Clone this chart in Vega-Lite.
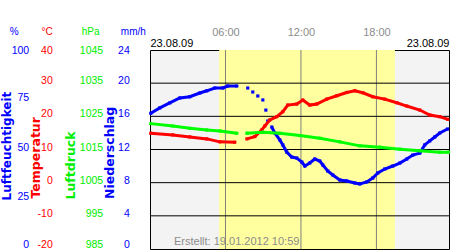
{
  "$schema": "https://vega.github.io/schema/vega-lite/v6.json",
  "width": 299,
  "height": 199,
  "autosize": "none",
  "padding": {"left": 150, "top": 50, "right": 1, "bottom": 1},
  "background": "white",
  "config": {
    "view": {"fill": "#f3f3f3", "stroke": "black", "strokeWidth": 1},
    "font": "Liberation Sans",
    "axis": {"domain": false, "ticks": false, "tickSize": 0, "grid": false, "labelOverlap": false, "labelBound": false, "labelFlush": false}
  },
  "title": {
    "text": "Erstellt: 19.01.2012 10:59",
    "orient": "bottom",
    "anchor": "start",
    "frame": "group",
    "offset": -5,
    "dx": 24,
    "baseline": "alphabetic",
    "font": "Liberation Sans",
    "fontSize": 11,
    "fontWeight": "normal",
    "color": "#8c8c8c"
  },
  "datasets": {
    "hum": [
      {"h": 0.06, "v": 68.2, "seg": 1}, {"h": 0.78, "v": 70.9, "seg": 1}, {"h": 1.57, "v": 73.4, "seg": 1},
      {"h": 2.37, "v": 75.9, "seg": 1}, {"h": 3.16, "v": 76.5, "seg": 1}, {"h": 3.96, "v": 78.4, "seg": 1},
      {"h": 4.52, "v": 79.5, "seg": 1}, {"h": 5.15, "v": 80.9, "seg": 1}, {"h": 5.79, "v": 80.9, "seg": 1},
      {"h": 6.18, "v": 81.9, "seg": 1}, {"h": 6.9, "v": 81.9, "seg": 1},
      {"h": 7.77, "v": 80.9, "seg": 2}, {"h": 8.17, "v": 78.9, "seg": 3}, {"h": 8.57, "v": 76.9, "seg": 4},
      {"h": 8.97, "v": 74.9, "seg": 5}, {"h": 9.21, "v": 69.8, "seg": 6}, {"h": 9.36, "v": 64.3, "seg": 7},
      {"h": 9.68, "v": 61.3, "seg": 8}, {"h": 9.92, "v": 58.3, "seg": 8}, {"h": 10.32, "v": 54.8, "seg": 8},
      {"h": 10.56, "v": 52.3, "seg": 8}, {"h": 10.87, "v": 48.7, "seg": 8}, {"h": 11.27, "v": 46.2, "seg": 8},
      {"h": 11.67, "v": 45.7, "seg": 8}, {"h": 12.07, "v": 43.7, "seg": 8}, {"h": 12.31, "v": 41.7, "seg": 8},
      {"h": 12.7, "v": 43.2, "seg": 8}, {"h": 13.1, "v": 45.2, "seg": 8}, {"h": 13.5, "v": 44.2, "seg": 8},
      {"h": 13.74, "v": 42.2, "seg": 8}, {"h": 14.13, "v": 39.2, "seg": 8}, {"h": 14.53, "v": 37.2, "seg": 8},
      {"h": 15.09, "v": 34.7, "seg": 8}, {"h": 15.64, "v": 34.2, "seg": 8}, {"h": 16.28, "v": 33.2, "seg": 8},
      {"h": 16.68, "v": 32.7, "seg": 8}, {"h": 17.23, "v": 33.7, "seg": 8}, {"h": 17.71, "v": 35.7, "seg": 8},
      {"h": 18.11, "v": 38.2, "seg": 8}, {"h": 18.66, "v": 40.2, "seg": 8}, {"h": 19.3, "v": 41.7, "seg": 8},
      {"h": 19.86, "v": 43.2, "seg": 8}, {"h": 20.41, "v": 45.2, "seg": 8}, {"h": 20.89, "v": 47.2, "seg": 8},
      {"h": 21.45, "v": 48.2, "seg": 8}, {"h": 21.84, "v": 52.3, "seg": 8}, {"h": 22.24, "v": 54.3, "seg": 8},
      {"h": 22.64, "v": 56.3, "seg": 8}, {"h": 23.04, "v": 58.3, "seg": 8}, {"h": 23.65, "v": 60.3, "seg": 8}
    ],
    "temp": [
      {"h": 0.06, "v": 14.9, "seg": 1}, {"h": 1.81, "v": 14.4, "seg": 1}, {"h": 3.16, "v": 13.8, "seg": 1},
      {"h": 4.52, "v": 13.2, "seg": 1}, {"h": 5.55, "v": 12.3, "seg": 1}, {"h": 6.74, "v": 12.2, "seg": 1},
      {"h": 7.7, "v": 13.2, "seg": 2}, {"h": 8.33, "v": 13.9, "seg": 2}, {"h": 8.89, "v": 15.9, "seg": 2},
      {"h": 9.13, "v": 17.1, "seg": 2}, {"h": 9.52, "v": 18.9, "seg": 2}, {"h": 10.08, "v": 19.9, "seg": 2},
      {"h": 10.56, "v": 21.4, "seg": 2}, {"h": 10.95, "v": 23.4, "seg": 2}, {"h": 11.67, "v": 23.7, "seg": 2},
      {"h": 12.15, "v": 24.9, "seg": 2}, {"h": 12.7, "v": 23.4, "seg": 2}, {"h": 13.26, "v": 23.7, "seg": 2},
      {"h": 14.05, "v": 25.2, "seg": 2}, {"h": 14.85, "v": 26.2, "seg": 2}, {"h": 15.64, "v": 27.2, "seg": 2},
      {"h": 16.28, "v": 27.7, "seg": 2}, {"h": 16.92, "v": 27.1, "seg": 2}, {"h": 17.71, "v": 25.9, "seg": 2},
      {"h": 18.66, "v": 25.2, "seg": 2}, {"h": 19.62, "v": 24.1, "seg": 2}, {"h": 20.41, "v": 23.1, "seg": 2},
      {"h": 21.45, "v": 21.9, "seg": 2}, {"h": 22.24, "v": 20.4, "seg": 2}, {"h": 23.04, "v": 19.9, "seg": 2},
      {"h": 23.67, "v": 19.1, "seg": 2}
    ],
    "pres": [
      {"h": 0.06, "v": 1022.8, "seg": 1}, {"h": 1.81, "v": 1022.1, "seg": 1}, {"h": 3.16, "v": 1021.4, "seg": 1},
      {"h": 4.52, "v": 1020.9, "seg": 1}, {"h": 5.55, "v": 1020.6, "seg": 1}, {"h": 6.9, "v": 1019.9, "seg": 1},
      {"h": 7.7, "v": 1019.9, "seg": 2}, {"h": 8.97, "v": 1020.2, "seg": 2}, {"h": 10.32, "v": 1019.9, "seg": 2},
      {"h": 11.91, "v": 1019.2, "seg": 2}, {"h": 13.5, "v": 1018.4, "seg": 2}, {"h": 15.09, "v": 1017.3, "seg": 2},
      {"h": 16.68, "v": 1016.1, "seg": 2}, {"h": 18.27, "v": 1015.7, "seg": 2}, {"h": 19.86, "v": 1015.1, "seg": 2},
      {"h": 21.45, "v": 1014.6, "seg": 2}, {"h": 23.04, "v": 1014.2, "seg": 2}, {"h": 23.75, "v": 1014.2, "seg": 2}
    ],
    "rain": [
      {"h": 1, "v": 0}, {"h": 3, "v": 0}, {"h": 5, "v": 0}, {"h": 7, "v": 0}, {"h": 9, "v": 0}, {"h": 11, "v": 0},
      {"h": 13, "v": 0}, {"h": 15, "v": 0}, {"h": 17, "v": 0}, {"h": 19, "v": 0}, {"h": 21, "v": 0}, {"h": 23, "v": 0}
    ],
    "day": [{"start": 5.5, "end": 19.47}],
    "hours": [{"h": 6}, {"h": 12}, {"h": 18}],
    "levels": [{"r": 4}, {"r": 8}, {"r": 12}, {"r": 16}, {"r": 20}]
  },
  "layer": [
    {
      "data": {"name": "day"},
      "mark": {"type": "rect", "color": "#ffffa0"},
      "encoding": {
        "x": {
          "field": "start", "type": "quantitative",
          "scale": {"domain": [0, 23.77], "nice": false, "zero": false},
          "axis": {
            "orient": "top", "values": [6, 12, 18],
            "labelExpr": "(datum.value < 10 ? '0' : '') + datum.value + ':00'",
            "labelPadding": 13, "labelFont": "Liberation Sans", "labelFontSize": 11,
            "labelColor": "#8c8c8c", "title": null
          }
        },
        "x2": {"field": "end"}
      }
    },
    {
      "data": {"name": "hours"},
      "mark": {"type": "rule", "color": "#808080", "strokeWidth": 1},
      "encoding": {
        "x": {"field": "h", "type": "quantitative", "scale": {"domain": [0, 23.77], "nice": false, "zero": false}, "axis": null}
      }
    },
    {
      "data": {"name": "levels"},
      "mark": {"type": "rule", "color": "black", "strokeWidth": 1},
      "encoding": {
        "y": {
          "field": "r", "type": "quantitative",
          "scale": {"domain": [0, 24], "nice": false, "zero": false},
          "axis": {
            "orient": "left", "offset": 20.7, "values": [0, 4, 8, 12, 16, 20, 24],
            "labelPadding": 0, "labelAlign": "right", "labelBaseline": "middle",
            "labelOffset": {"condition": [{"test": "datum.value == 0", "value": -4.5}, {"test": "datum.value == 24", "value": 0}], "value": -2.5},
            "labelFontSize": 10.5, "labelColor": "#0000ff", "labelFont": "Liberation Sans",
            "title": "mm/h", "titleAngle": 0, "titleAlign": "center", "titleBaseline": "middle",
            "titleX": 3.5, "titleY": -19, "titleColor": "#0000ff", "titleFont": "Liberation Sans",
            "titleFontWeight": "normal", "titleFontSize": 10
          }
        }
      }
    },
    {
      "data": {"name": "rain"},
      "mark": {"type": "bar", "color": "#0000ff"},
      "encoding": {
        "x": {"field": "h", "type": "quantitative", "scale": {"domain": [0, 23.77], "nice": false, "zero": false}, "axis": null},
        "y": {
          "field": "v", "type": "quantitative",
          "scale": {"domain": [0, 24], "nice": false, "zero": false},
          "axis": {
            "orient": "left", "offset": 20.7, "labels": false,
            "title": "Niederschlag", "titleAngle": 270, "titleAlign": "left", "titleBaseline": "middle",
            "titleX": -19.8, "titleY": 148.5, "titleColor": "#0000ff", "titleFont": "DejaVu Sans",
            "titleFontWeight": "bold", "titleFontSize": 12.5
          }
        }
      }
    },
    {
      "data": {"name": "hum"},
      "mark": {"type": "line", "color": "#0000ff", "strokeWidth": 3},
      "encoding": {
        "x": {
          "field": "h", "type": "quantitative",
          "scale": {"domain": [0, 23.77], "nice": false, "zero": false},
          "axis": {
            "orient": "top", "values": [0, 23.77], "labelExpr": "'23.08.09'",
            "labelFlush": true, "labelPadding": 2, "labelFont": "Liberation Sans", "labelFontSize": 11,
            "labelColor": "black", "title": null
          }
        },
        "y": {
          "field": "v", "type": "quantitative",
          "scale": {"domain": [0, 100], "nice": false, "zero": false},
          "axis": {
            "orient": "left", "offset": 121.3, "values": [0, 25, 50, 75, 100],
            "labelPadding": 0, "labelAlign": "right", "labelBaseline": "middle",
            "labelOffset": {"condition": [{"test": "datum.value == 0", "value": -4.5}, {"test": "datum.value == 100", "value": 0}], "value": -2.5},
            "labelFontSize": 10.5, "labelColor": "#0000ff", "labelFont": "Liberation Sans",
            "title": "Luftfeuchtigkeit", "titleAngle": 270, "titleAlign": "left", "titleBaseline": "middle",
            "titleX": -21.9, "titleY": 150, "titleColor": "#0000ff", "titleFont": "DejaVu Sans",
            "titleFontWeight": "bold", "titleFontSize": 12
          }
        },
        "detail": {"field": "seg"}
      }
    },
    {
      "data": {"name": "hum"},
      "mark": {"type": "square", "color": "#0000ff", "size": 10, "opacity": 1},
      "encoding": {
        "x": {"field": "h", "type": "quantitative", "scale": {"domain": [0, 23.77], "nice": false, "zero": false}, "axis": null},
        "y": {
          "field": "v", "type": "quantitative",
          "scale": {"domain": [0, 100], "nice": false, "zero": false},
          "axis": {
            "orient": "left", "offset": 121.3, "labels": false,
            "title": "%", "titleAngle": 0, "titleAlign": "center", "titleBaseline": "middle",
            "titleX": -14.9, "titleY": -19, "titleColor": "#0000ff", "titleFont": "Liberation Sans",
            "titleFontWeight": "normal", "titleFontSize": 10
          }
        }
      }
    },
    {
      "data": {"name": "temp"},
      "mark": {"type": "line", "color": "#ff0000", "strokeWidth": 3},
      "encoding": {
        "x": {"field": "h", "type": "quantitative", "scale": {"domain": [0, 23.77], "nice": false, "zero": false}, "axis": null},
        "y": {
          "field": "v", "type": "quantitative",
          "scale": {"domain": [-20, 40], "nice": false, "zero": false},
          "axis": {
            "orient": "left", "offset": 97.7, "values": [-20, -10, 0, 10, 20, 30, 40],
            "labelExpr": "'' + datum.value",
            "labelPadding": 0, "labelAlign": "right", "labelBaseline": "middle",
            "labelOffset": {"condition": [{"test": "datum.value == -20", "value": -4.5}, {"test": "datum.value == 40", "value": 0}], "value": -2.5},
            "labelFontSize": 10.5, "labelColor": "#ff0000", "labelFont": "Liberation Sans",
            "title": "Temperatur", "titleAngle": 270, "titleAlign": "left", "titleBaseline": "middle",
            "titleX": -16.8, "titleY": 148, "titleColor": "#ff0000", "titleFont": "DejaVu Sans",
            "titleFontWeight": "bold", "titleFontSize": 12.5
          }
        },
        "detail": {"field": "seg"}
      }
    },
    {
      "data": {"name": "temp"},
      "mark": {"type": "square", "color": "#ff0000", "size": 10, "opacity": 1},
      "encoding": {
        "x": {"field": "h", "type": "quantitative", "scale": {"domain": [0, 23.77], "nice": false, "zero": false}, "axis": null},
        "y": {
          "field": "v", "type": "quantitative",
          "scale": {"domain": [-20, 40], "nice": false, "zero": false},
          "axis": {
            "orient": "left", "offset": 97.7, "labels": false,
            "title": "°C", "titleAngle": 0, "titleAlign": "right", "titleBaseline": "middle",
            "titleX": 0, "titleY": -19, "titleColor": "#ff0000", "titleFont": "Liberation Sans",
            "titleFontWeight": "normal", "titleFontSize": 10
          }
        }
      }
    },
    {
      "data": {"name": "pres"},
      "mark": {"type": "line", "color": "#00ff00", "strokeWidth": 3},
      "encoding": {
        "x": {"field": "h", "type": "quantitative", "scale": {"domain": [0, 23.77], "nice": false, "zero": false}, "axis": null},
        "y": {
          "field": "v", "type": "quantitative",
          "scale": {"domain": [985, 1045], "nice": false, "zero": false},
          "axis": {
            "orient": "left", "offset": 47.3, "values": [985, 995, 1005, 1015, 1025, 1035, 1045],
            "labelExpr": "'' + datum.value",
            "labelPadding": 0, "labelAlign": "right", "labelBaseline": "middle",
            "labelOffset": {"condition": [{"test": "datum.value == 985", "value": -4.5}, {"test": "datum.value == 1045", "value": 0}], "value": -2.5},
            "labelFontSize": 10.5, "labelColor": "#00ee00", "labelFont": "Liberation Sans",
            "title": "Luftdruck", "titleAngle": 270, "titleAlign": "left", "titleBaseline": "middle",
            "titleX": -32.7, "titleY": 149, "titleColor": "#00ee00", "titleFont": "DejaVu Sans",
            "titleFontWeight": "bold", "titleFontSize": 12.5
          }
        },
        "detail": {"field": "seg"}
      }
    },
    {
      "data": {"name": "pres"},
      "mark": {"type": "square", "color": "#00ff00", "size": 10, "opacity": 1},
      "encoding": {
        "x": {"field": "h", "type": "quantitative", "scale": {"domain": [0, 23.77], "nice": false, "zero": false}, "axis": null},
        "y": {
          "field": "v", "type": "quantitative",
          "scale": {"domain": [985, 1045], "nice": false, "zero": false},
          "axis": {
            "orient": "left", "offset": 47.3, "labels": false,
            "title": "hPa", "titleAngle": 0, "titleAlign": "center", "titleBaseline": "middle",
            "titleX": -12.5, "titleY": -19, "titleColor": "#00ee00", "titleFont": "Liberation Sans",
            "titleFontWeight": "normal", "titleFontSize": 10
          }
        }
      }
    }
  ],
  "resolve": {"scale": {"x": "independent", "y": "independent"}}
}
